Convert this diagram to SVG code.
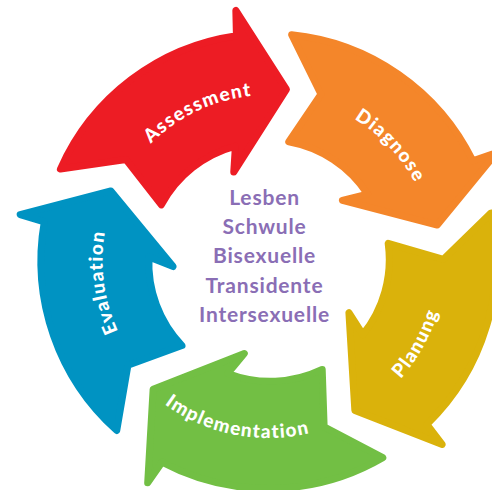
<svg xmlns="http://www.w3.org/2000/svg" xmlns:xlink="http://www.w3.org/1999/xlink" width="492" height="490" viewBox="0 0 492 490">
  <style>
    .arrow { stroke-width: 7; stroke-linejoin: round; }
    .label { font-family: Lato, "Open Sans", "DejaVu Sans", sans-serif; font-weight: 900; font-size: 19px; fill: #ffffff; letter-spacing: 1.3px; }
    .group-name { font-family: Lato, "Open Sans", "DejaVu Sans", sans-serif; font-weight: 700; font-size: 21px; fill: #8A6EB5; text-anchor: middle; letter-spacing: 0.8px; }
  </style>
  <defs>
    <!-- one curved arrow segment, tip pointing along +angle at radius 173 -->
    <path id="arrowShape" d="M65.4,-217.9 L83,-154 L42.4,-113.3 A119.5,119.5 0 0 1 109.9,-47.1 L84,-45.5 L172.5,-3.5 L244.5,-63.5 L219.6,-59.8 A227.5,227.5 0 0 0 65.4,-217.9 Z"/>
    <!-- label baselines: clockwise (letters face outward) and counter-clockwise (letters face inward) -->
    <path id="arcOut" d="M-7.24,-165.84 A166,166 0 0 1 147.24,76.65"/>
    <path id="arcIn" d="M156.28,83.10 A177,177 0 0 0 -6.18,-176.89"/>
  </defs>

  <g id="cycle">
    <g id="step-assessment" transform="translate(268.5,261) rotate(-82.87)">
      <use href="#arrowShape" class="arrow" fill="#ED1C24" stroke="#ED1C24"/>
      <text class="label" text-anchor="middle"><textPath href="#arcOut" startOffset="50%">Assessment</textPath></text>
    </g>
    <g id="step-diagnose" transform="translate(268.5,261) rotate(-10.87)">
      <use href="#arrowShape" class="arrow" fill="#F4862A" stroke="#F4862A"/>
      <text class="label" text-anchor="middle"><textPath href="#arcOut" startOffset="50%">Diagnose</textPath></text>
    </g>
    <g id="step-planung" transform="translate(268.5,261) rotate(61.13)">
      <use href="#arrowShape" class="arrow" fill="#DAB20B" stroke="#DAB20B"/>
      <text class="label" text-anchor="middle"><textPath href="#arcIn" startOffset="50%">Planung</textPath></text>
    </g>
    <g id="step-implementation" transform="translate(268.5,261) rotate(133.13)">
      <use href="#arrowShape" class="arrow" fill="#72BF44" stroke="#72BF44"/>
      <text class="label" text-anchor="middle"><textPath href="#arcIn" startOffset="50%">Implementation</textPath></text>
    </g>
    <g id="step-evaluation" transform="translate(268.5,261) rotate(205.13)">
      <use href="#arrowShape" class="arrow" fill="#0093C2" stroke="#0093C2"/>
      <text class="label" text-anchor="middle"><textPath href="#arcOut" startOffset="50%">Evaluation</textPath></text>
    </g>
  </g>

  <g id="center-list">
    <text class="group-name" x="264.5" y="205">Lesben</text>
    <text class="group-name" x="264.5" y="234.2">Schwule</text>
    <text class="group-name" x="264.5" y="263.4">Bisexuelle</text>
    <text class="group-name" x="264.5" y="292.6">Transidente</text>
    <text class="group-name" x="264.5" y="321.8">Intersexuelle</text>
  </g>
</svg>
